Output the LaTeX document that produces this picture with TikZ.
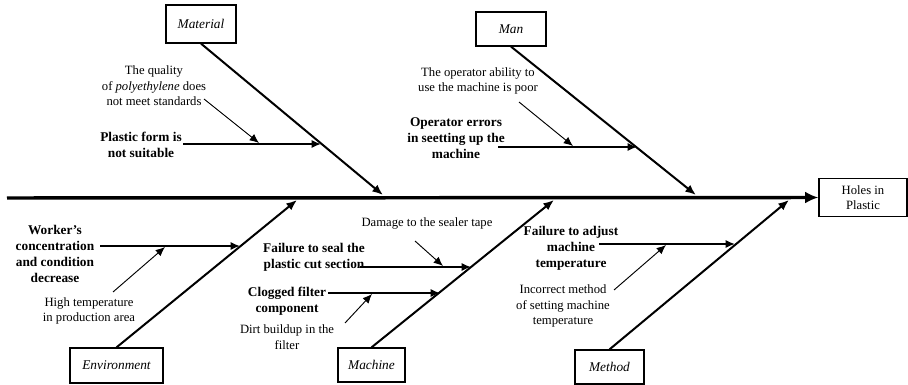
\documentclass[tikz,border=0pt]{standalone}
\usepackage{fontspec}
\setmainfont{Liberation Serif}
\usetikzlibrary{arrows.meta}
\tikzset{
	catbox/.style={draw,line width=0.9pt,inner sep=0pt,font=\itshape},
	cause/.style={align=center,font=\bfseries},
	subcause/.style={align=center},
	bone/.style={line width=1.5pt,-{Latex[length=8pt,width=6.5pt]}},
	rib/.style={line width=1.2pt,-{Latex[length=7pt,width=6pt]}},
	lead/.style={line width=0.7pt,-{Latex[length=7pt,width=6pt]}}
}
\begin{document}
\begin{tikzpicture}[x=0.75pt,y=-0.75pt,every node/.append style={font=\fontsize{9.5}{11.5}\selectfont}]
	\useasboundingbox (0,0) rectangle (908,385);
	% head and spine
	\node[draw,line width=0.9pt,align=center,minimum width=66pt,minimum height=29pt,inner sep=0pt] (holes) at (863,197.5) {Holes in\\Plastic};
	\coordinate (tail) at (7,198);
	\draw[line width=2.6pt,-{Latex[length=10pt,width=9pt]}] (tail) -- (holes.west);
	% Material
	\node[catbox,minimum width=52.5pt,minimum height=28.5pt] (material) at (201,24) {Material};
	\coordinate (mattip) at (383,195);
	\draw[bone] (material.south) -- (mattip);
	\node[cause] (form) at (141,145) {Plastic form is\\not suitable};
	\coordinate (forms) at (183,144);
	\coordinate (forme) at (321,144);
	\draw[rib] (forms) -- (forme);
	\node[subcause] (quality) at (154,86) {The quality\\of \textit{polyethylene} does\\not meet standards};
	\coordinate (quals) at (204,99);
	\coordinate (quale) at (259,143);
	\draw[lead] (quals) -- (quale);
	% Man
	\node[catbox,minimum width=52.5pt,minimum height=25.5pt] (man) at (511,29) {Man};
	\coordinate (mantip) at (696,195);
	\draw[bone] (man.south) -- (mantip);
	\node[cause] (operr) at (456,138) {Operator errors\\in seetting up the\\machine};
	\coordinate (operrs) at (498,147);
	\coordinate (operre) at (637,147);
	\draw[rib] (operrs) -- (operre);
	\node[subcause] (ability) at (478,81) {The operator ability to\\use the machine is poor};
	\coordinate (abils) at (519,102);
	\coordinate (abile) at (573,146);
	\draw[lead] (abils) -- (abile);
	% Environment
	\node[catbox,minimum width=69.75pt,minimum height=26.25pt] (env) at (116.5,365.5) {Environment};
	\coordinate (envtip) at (297,200);
	\draw[bone] (env.north) -- (envtip);
	\node[cause] (worker) at (55,254) {Worker's\\concentration\\and condition\\decrease};
	\coordinate (works) at (100,246);
	\coordinate (worke) at (240,246);
	\draw[rib] (works) -- (worke);
	\node[subcause] (hightemp) at (89,311) {High temperature\\in production area};
	\coordinate (temps) at (113,292);
	\coordinate (tempe) at (165,247);
	\draw[lead] (temps) -- (tempe);
	% Machine
	\node[catbox,minimum width=50.25pt,minimum height=25.5pt] (machine) at (371.5,365) {Machine};
	\coordinate (mactip) at (554,200);
	\draw[bone] (machine.north) -- (mactip);
	\node[cause] (seal) at (314,257) {Failure to seal the\\plastic cut section};
	\coordinate (seals) at (360,267);
	\coordinate (seale) at (471,267);
	\draw[rib] (seals) -- (seale);
	\node[subcause] (tape) at (427,223) {Damage to the sealer tape};
	\coordinate (tapes) at (415,241);
	\coordinate (tapee) at (443,266);
	\draw[lead] (tapes) -- (tapee);
	\node[cause] (filter) at (287,301) {Clogged filter\\component};
	\coordinate (filts) at (328,293);
	\coordinate (filte) at (440,293);
	\draw[rib] (filts) -- (filte);
	\node[subcause] (dirt) at (287,337) {Dirt buildup in the\\filter};
	\coordinate (dirts) at (345,323);
	\coordinate (dirte) at (372,294);
	\draw[lead] (dirts) -- (dirte);
	% Method
	\node[catbox,minimum width=51.75pt,minimum height=25.5pt] (method) at (609.5,367) {Method};
	\coordinate (methtip) at (789,200);
	\draw[bone] (method.north) -- (methtip);
	\node[cause] (adjust) at (571,248) {Failure to adjust\\machine\\temperature};
	\coordinate (adjs) at (599,244);
	\coordinate (adje) at (735,244);
	\draw[rib] (adjs) -- (adje);
	\node[subcause] (setting) at (563,306) {Incorrect method\\of setting machine\\temperature};
	\coordinate (sets) at (614,290);
	\coordinate (sete) at (666,245);
	\draw[lead] (sets) -- (sete);
\end{tikzpicture}
\end{document}
